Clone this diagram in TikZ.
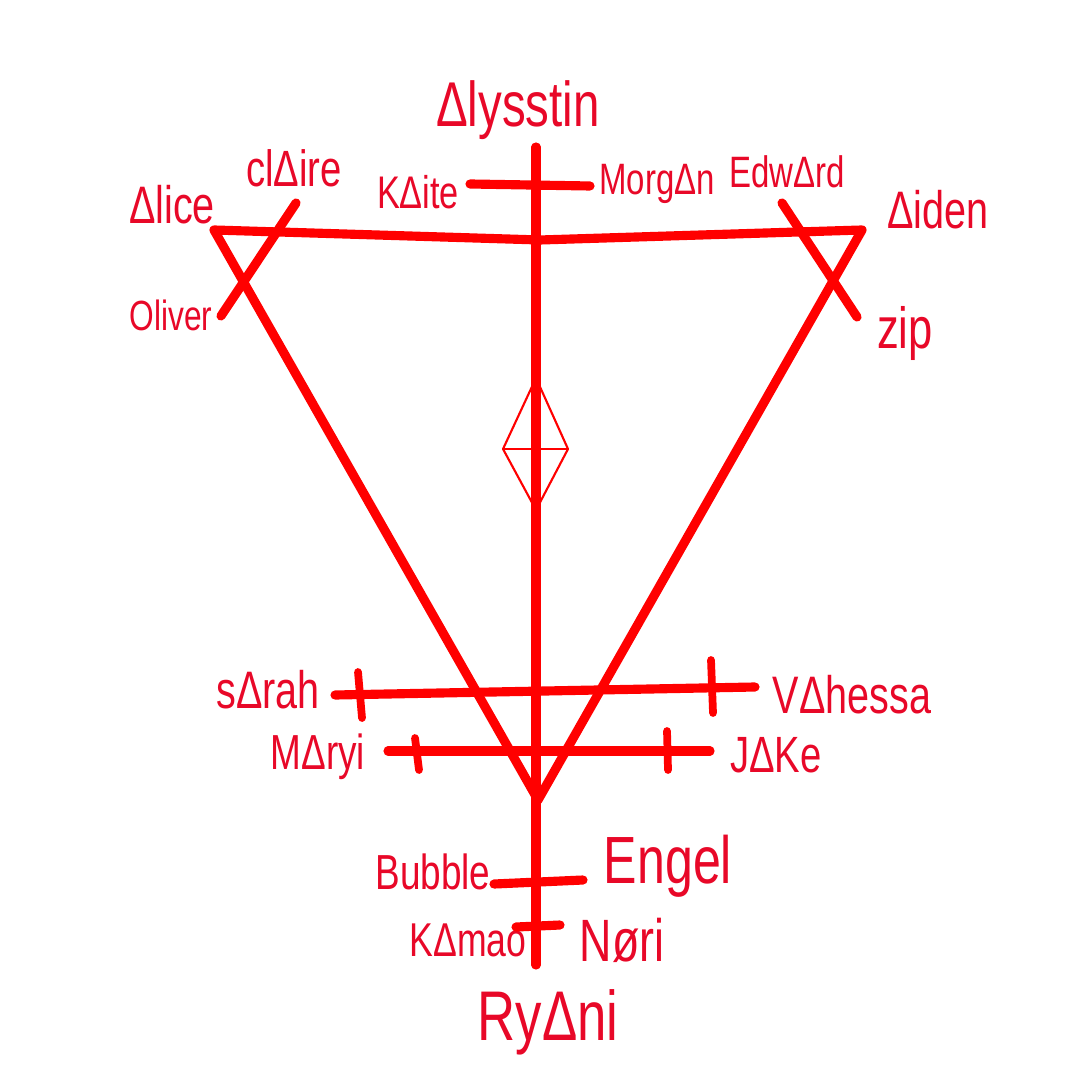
\documentclass[tikz,border=0pt]{standalone}
\usepackage{fontspec}
\usepackage{tikz}
\usetikzlibrary{positioning}
\newfontfamily\handfont[FakeStretch=0.75]{Liberation Sans}
\definecolor{linered}{RGB}{255,0,0}
\definecolor{namered}{RGB}{232,8,40}

\begin{document}
\begin{tikzpicture}[
    x=0.01cm, y=-0.01cm,
    bar/.style={draw=linered, line width=2.6pt, line cap=round},
    tick/.style={draw=linered, line width=2.2pt, line cap=round},
    thin/.style={draw=linered, line width=0.6pt, line join=round},
    tag/.style={text=namered, inner sep=0pt, font=\handfont\fontsize{#1}{#1}\selectfont},
    tag/.default=14
]
\useasboundingbox (0,0) rectangle (1080,1080);

% Corner points of the triangle
\coordinate (alicept) at (214,230);
\coordinate (topmid) at (540,240);
\coordinate (aidenpt) at (862,230);
\coordinate (vertex) at (538,800);

% Axis
\coordinate (axtop) at (536,147);
\coordinate (axbot) at (536,965);
\draw[bar] (axtop) -- (axbot);

% Triangle
\draw[bar, line join=round] (alicept) -- (topmid) -- (aidenpt) -- (vertex) -- cycle;

% Names
\node[tag=18] (alysstin) at (518,110) {Δlysstin};
\node[tag=13] (kaite) at (418,192) {KΔite};
\node[tag=12.5] (morgan) at (657,184) {MorgΔn};
\node[tag=14.5] (claire) at (294,168) {clΔire};
\node[tag=15] (alice) at (172,205) {Δlice};
\node[tag=12] (oliver) at (171,315) {Oliver};
\node[tag=12.5] (edward) at (787,172) {EdwΔrd};
\node[tag=15] (aiden) at (938,210) {Δiden};
\node[tag=16.5] (zip) at (905,334) {zip};
\node[tag=15] (sarah) at (268,690) {sΔrah};
\node[tag=15] (vahessa) at (852,695) {VΔhessa};
\node[tag=14] (maryi) at (318,757) {MΔryi};
\node[tag=14.5] (jake) at (776,755) {JΔKe};
\node[tag=14] (bubble) at (433,872) {Bubble};
\node[tag=19] (engel) at (668,866) {Engel};
\node[tag=13.5] (kamao) at (468,940) {KΔmao};
\node[tag=17] (nori) at (622,940) {Nøri};
\node[tag=20] (ryani) at (548,1022) {RyΔni};

% Bars across the axis
\coordinate (kaitept) at (470,184);
\coordinate (morganpt) at (590,186);
\draw[bar] (kaitept) -- (morganpt);

\coordinate (clairept) at (296,203);
\coordinate (oliverpt) at (221,316);
\draw[bar] (clairept) -- (oliverpt);

\coordinate (edwardpt) at (782,203);
\coordinate (zippt) at (857,317);
\draw[bar] (edwardpt) -- (zippt);

\coordinate (sarahpt) at (335,695);
\coordinate (vahessapt) at (755,687);
\draw[bar] (sarahpt) -- (vahessapt);
\draw[tick] (358,672) -- (362,718);
\draw[tick] (711,660) -- (713,713);

\coordinate (maryipt) at (388,751);
\coordinate (jakept) at (710,751);
\draw[bar] (maryipt) -- (jakept);
\draw[tick] (415,738) -- (419,770);
\draw[tick] (667,731) -- (668,770);

\coordinate (bubblept) at (494,884);
\coordinate (engelpt) at (583,880);
\draw[bar] (bubblept) -- (engelpt);

\coordinate (kamaopt) at (516,927);
\coordinate (noript) at (560,925);
\draw[bar] (kamaopt) -- (noript);

% Diamond
\coordinate (dtop) at (536,378);
\coordinate (dleft) at (503,449);
\coordinate (dright) at (568,449);
\coordinate (dbot) at (536,510);
\draw[thin] (dtop) -- (dright) -- (dbot) -- (dleft) -- cycle;
\draw[thin] (dleft) -- (dright);

\end{tikzpicture}
\end{document}
